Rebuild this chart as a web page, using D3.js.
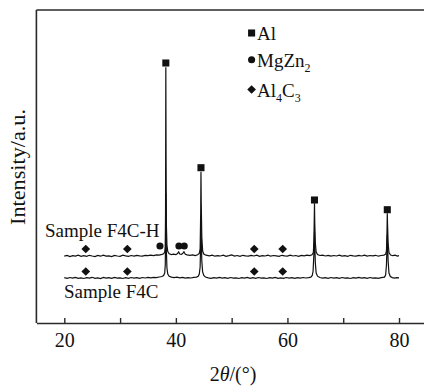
<!DOCTYPE html>
<html>
<head>
<meta charset="utf-8">
<script src="https://cdn.jsdelivr.net/npm/d3@7"></script>
<style>
  html, body { margin: 0; padding: 0; background: #fff; }
  svg { display: block; }
  text { font-family: "Liberation Serif", "Times New Roman", serif; fill: #111; }
</style>
</head>
<body>
<script>
// ---------- data ----------
const xTicks = [20, 30, 40, 50, 60, 70, 80];
const xTickLabels = [20, 40, 60, 80];

const f4chPattern = [[20.0,66.8],[20.5,67.6],[21.0,66.5],[21.5,67.4],[22.0,66.9],[22.5,67.8],[23.0,66.7],[23.5,67.3],[24.0,66.6],[24.5,67.7],[25.0,67.0],[25.5,66.4],[26.0,67.5],[26.5,66.8],[27.0,67.9],[27.5,66.9],[28.0,67.2],[28.5,66.5],[29.0,67.6],[29.5,67.0],[30.0,66.6],[30.5,67.8],[31.0,67.1],[31.5,66.7],[32.0,67.5],[32.5,66.9],[33.0,67.7],[33.5,67.2],[34.0,66.8],[34.5,67.6],[35.0,67.3],[35.5,67.9],[36.0,67.4],[36.5,68.2],[37.0,67.8],[37.5,68.6],[37.8,69.2],[38.0,71.0],[38.1,76],[38.15,110],[38.2,255.7],[38.25,160],[38.3,98],[38.4,78],[38.55,71.5],[38.8,69.2],[39.2,68.4],[39.6,68.9],[40.0,68.3],[40.3,69.4],[40.5,71.0],[40.7,69.0],[41.0,68.6],[41.2,69.4],[41.45,71.2],[41.7,68.8],[42.0,68.1],[42.5,67.6],[43.0,68.2],[43.5,67.5],[43.9,68.3],[44.2,69.6],[44.35,74],[44.45,110],[44.5,151.3],[44.55,120],[44.65,86],[44.8,72],[45.0,69.0],[45.4,67.8],[46.0,67.2],[46.5,67.9],[47.0,66.8],[47.5,67.4],[48.0,67.0],[48.5,67.8],[49.0,66.7],[49.5,67.3],[50.0,68.0],[50.5,66.9],[51.0,67.5],[51.5,66.6],[52.0,67.7],[52.5,67.1],[53.0,66.8],[53.5,67.6],[54.0,67.0],[54.5,67.9],[55.0,66.7],[55.5,67.4],[56.0,67.0],[56.5,67.8],[57.0,66.8],[57.5,67.5],[58.0,67.1],[58.5,66.6],[59.0,67.7],[59.5,67.2],[60.0,66.9],[60.5,67.8],[61.0,67.0],[61.5,67.5],[62.0,66.7],[62.5,67.6],[63.0,67.2],[63.5,67.9],[64.0,67.4],[64.4,68.3],[64.65,70.5],[64.75,84],[64.85,119.7],[64.9,100],[65.0,80],[65.15,71],[65.4,68.4],[65.8,67.5],[66.3,67.9],[66.8,67.0],[67.3,67.6],[67.8,66.8],[68.3,67.5],[68.8,67.0],[69.3,67.8],[69.8,66.9],[70.3,67.4],[70.8,66.7],[71.3,67.7],[71.8,67.1],[72.3,66.8],[72.8,67.6],[73.3,67.0],[73.8,67.8],[74.3,66.9],[74.8,67.5],[75.3,67.1],[75.8,67.7],[76.3,66.8],[76.8,67.5],[77.3,67.9],[77.6,68.8],[77.75,72],[77.85,92],[77.9,109.7],[77.95,98],[78.05,80],[78.2,70.5],[78.5,68.0],[78.9,67.3],[79.3,67.8],[79.7,66.9],[80.0,67.3]];

const f4cPattern = [[20.0,45.3],[20.5,44.6],[21.0,45.5],[21.5,44.8],[22.0,45.6],[22.5,44.7],[23.0,45.2],[23.5,44.5],[24.0,45.4],[24.5,44.9],[25.0,45.7],[25.5,44.6],[26.0,45.1],[26.5,44.4],[27.0,45.5],[27.5,44.8],[28.0,45.3],[28.5,44.6],[29.0,45.6],[29.5,44.9],[30.0,45.2],[30.5,44.5],[31.0,45.4],[31.5,44.7],[32.0,45.5],[32.5,44.9],[33.0,45.3],[33.5,44.6],[34.0,45.5],[34.5,45.0],[35.0,45.6],[35.5,45.1],[36.0,45.7],[36.5,45.4],[37.0,46.0],[37.5,46.5],[37.8,47.5],[38.0,50],[38.1,58],[38.15,80],[38.2,130],[38.25,105],[38.3,72],[38.4,55],[38.55,49],[38.8,46.8],[39.2,45.9],[39.7,45.3],[40.2,45.8],[40.7,45.1],[41.2,45.6],[41.7,44.9],[42.2,45.4],[42.7,45.0],[43.2,45.7],[43.7,45.9],[44.0,46.8],[44.2,49],[44.35,56],[44.45,80],[44.5,100],[44.55,88],[44.65,62],[44.8,51],[45.0,47.5],[45.3,46.0],[45.8,45.2],[46.3,44.7],[46.8,45.4],[47.3,44.8],[47.8,45.6],[48.3,44.9],[48.8,45.3],[49.3,44.6],[49.8,45.5],[50.3,44.8],[50.8,45.2],[51.3,44.5],[51.8,45.4],[52.3,44.9],[52.8,45.6],[53.3,44.7],[53.8,45.3],[54.3,44.6],[54.8,45.5],[55.3,44.8],[55.8,45.1],[56.3,44.5],[56.8,45.4],[57.3,44.9],[57.8,45.6],[58.3,44.7],[58.8,45.2],[59.3,44.6],[59.8,45.5],[60.3,44.9],[60.8,45.3],[61.3,44.6],[61.8,45.4],[62.3,44.8],[62.8,45.5],[63.3,45.0],[63.8,45.4],[64.2,45.8],[64.45,47.5],[64.6,52],[64.75,70],[64.85,91],[64.9,80],[65.0,60],[65.15,50],[65.4,46.8],[65.8,45.5],[66.3,44.9],[66.8,45.4],[67.3,44.7],[67.8,45.5],[68.3,44.8],[68.8,45.3],[69.3,44.6],[69.8,45.5],[70.3,44.9],[70.8,45.2],[71.3,44.5],[71.8,45.4],[72.3,44.8],[72.8,45.6],[73.3,44.9],[73.8,45.3],[74.3,44.6],[74.8,45.5],[75.3,44.8],[75.8,45.2],[76.3,44.7],[76.8,45.4],[77.4,45.9],[77.6,48],[77.75,58],[77.85,78],[77.9,88],[77.95,80],[78.05,62],[78.2,50],[78.45,46.5],[78.8,45.4],[79.2,44.8],[79.6,45.4],[80.0,45.1]];

// phase markers: [2theta, intensity]
const alMarkers = [[38.2,260],[44.5,155.3],[64.85,123],[77.9,113.3]];
const mgzn2Markers = [[37.15,77],[40.55,77],[41.5,77]];
const al4c3MarkersF4CH = [[23.85,74],[31.3,74],[54.05,74],[59.15,74]];
const al4c3MarkersF4C = [[23.85,51.5],[31.3,51.5],[54.05,51.5],[59.15,51.5]];

// ---------- layout ----------
const W = 424, H = 388;
const svg = d3.select("body").append("svg").attr("width", W).attr("height", H);
svg.append("rect").attr("width", W).attr("height", H).attr("fill", "#fff");

const x = d3.scaleLinear().domain([15, 85]).range([36.4, 426.9]);
const y = d3.scaleLinear().domain([0, 313]).range([323, 10]);

const axisColor = "#2a2a2a";

// frame
svg.append("line").attr("x1", x(15)).attr("x2", x(85)).attr("y1", y(313)).attr("y2", y(313))
  .attr("stroke", axisColor).attr("stroke-width", 1.6);
svg.append("line").attr("x1", x(15)).attr("x2", x(15)).attr("y1", y(313)).attr("y2", y(0))
  .attr("stroke", axisColor).attr("stroke-width", 1.6);

// bottom axis with inward ticks
const xAxis = d3.axisBottom(x).tickValues(xTicks).tickSizeInner(-5).tickSizeOuter(0)
  .tickFormat(d => xTickLabels.includes(d) ? d : "");
const gx = svg.append("g").attr("transform", `translate(0,${y(0)})`).call(xAxis);
gx.select(".domain").attr("stroke", axisColor).attr("stroke-width", 1.6);
gx.selectAll(".tick line").attr("stroke", axisColor).attr("stroke-width", 1.4);
gx.selectAll(".tick text").attr("dy", 0).attr("y", 24)
  .style("font-family", '"Liberation Serif", serif').style("font-size", "20px").attr("fill", "#111");

// lines
const line = d3.line().x(d => x(d[0])).y(d => y(d[1]));
svg.append("path").datum(f4cPattern).attr("d", line).attr("fill", "none")
  .attr("stroke", "#111").attr("stroke-width", 1.2);
svg.append("path").datum(f4chPattern).attr("d", line).attr("fill", "none")
  .attr("stroke", "#111").attr("stroke-width", 1.2);

// markers
const symSquare = d3.symbol().type(d3.symbolSquare).size(50);
const symCircle = d3.symbol().type(d3.symbolCircle).size(40);
const symDiamond = d3.symbol().type(d3.symbolSquare).size(38);

function drawMarkers(data, sym, rot) {
  svg.append("g").selectAll("path").data(data).join("path")
    .attr("d", sym)
    .attr("transform", d => `translate(${x(d[0])},${y(d[1])})${rot ? " rotate(45)" : ""}`)
    .attr("fill", "#111");
}
drawMarkers(alMarkers, symSquare, false);
drawMarkers(mgzn2Markers, symCircle, false);
drawMarkers(al4c3MarkersF4CH, symDiamond, true);
drawMarkers(al4c3MarkersF4C, symDiamond, true);

// legend
const legend = [
  { sym: "square", parts: [["Al", false]], base: 40 },
  { sym: "circle", parts: [["MgZn", false], ["2", true]], base: 66.7 },
  { sym: "diamond", parts: [["Al", false], ["4", true], ["C", false], ["3", true]], base: 96.5 },
];
legend.forEach(L => {
  const cx = 251.6, cy = L.base - 7;
  let p;
  if (L.sym === "square") p = svg.append("path").attr("d", symSquare()).attr("transform", `translate(${cx},${cy})`);
  else if (L.sym === "circle") p = svg.append("path").attr("d", symCircle()).attr("transform", `translate(${cx},${cy})`);
  else p = svg.append("path").attr("d", symDiamond()).attr("transform", `translate(${cx},${cy}) rotate(45)`);
  p.attr("fill", "#111");
  const t = svg.append("text").attr("x", 257).attr("y", L.base).style("font-size", "19px");
  let shifted = false;
  L.parts.forEach(([s, sub]) => {
    const ts = t.append("tspan").text(s);
    if (sub && !shifted) { ts.attr("dy", 5).style("font-size", "12px"); shifted = true; }
    else if (!sub && shifted) { ts.attr("dy", -5); shifted = false; }
    else if (sub) ts.style("font-size", "12px");
  });
});

// sample labels
svg.append("text").attr("x", 45).attr("y", 237).style("font-size", "19px").text("Sample F4C-H");
svg.append("text").attr("x", 64).attr("y", 298).style("font-size", "19px").text("Sample F4C");

// axis titles
const xt = svg.append("text").attr("x", 233).attr("y", 381).attr("text-anchor", "middle").style("font-size", "20px");
xt.append("tspan").text("2");
xt.append("tspan").style("font-style", "italic").text("θ");
xt.append("tspan").text("/(°)");

svg.append("text").attr("transform", "translate(25,167) rotate(-90)").attr("text-anchor", "middle")
  .style("font-size", "21px").attr("textLength", 116).attr("lengthAdjust", "spacingAndGlyphs")
  .text("Intensity/a.u.");
</script>
</body>
</html>
